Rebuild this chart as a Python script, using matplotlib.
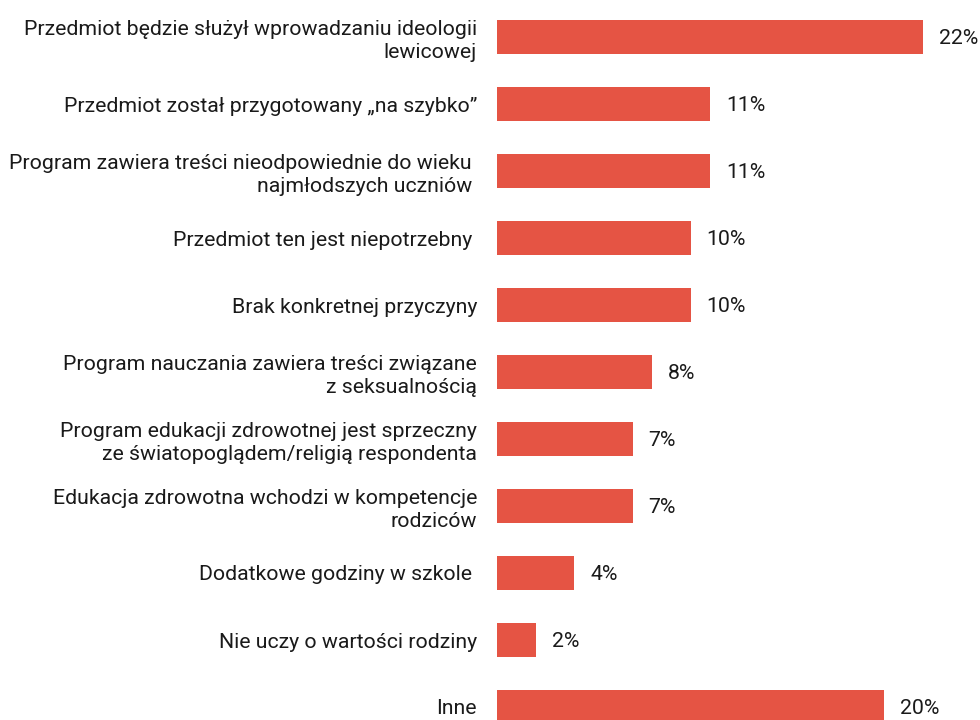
import matplotlib
matplotlib.use("Agg")
import matplotlib.pyplot as plt

categories = [
    "Przedmiot będzie służył wprowadzaniu ideologii\nlewicowej",
    "Przedmiot został przygotowany „na szybko”",
    "Program zawiera treści nieodpowiednie do wieku \nnajmłodszych uczniów ",
    "Przedmiot ten jest niepotrzebny ",
    "Brak konkretnej przyczyny",
    "Program nauczania zawiera treści związane\nz seksualnością",
    "Program edukacji zdrowotnej jest sprzeczny\nze światopoglądem/religią respondenta",
    "Edukacja zdrowotna wchodzi w kompetencje\nrodziców",
    "Dodatkowe godziny w szkole ",
    "Nie uczy o wartości rodziny",
    "Inne",
]
values = [22, 11, 11, 10, 10, 8, 7, 7, 4, 2, 20]
value_labels = ["22%", "11%", "11%", "10%", "10%", "8%", "7%", "7%", "4%", "2%", "20%"]

plt.rcParams['font.family'] = ['Roboto', 'DejaVu Sans']

W, H = 980, 720
fig = plt.figure(figsize=(W / 100, H / 100), dpi=100)
left_px, right_px = 497, 981
top_px, bottom_px = 3.5, 740.5
ax = fig.add_axes([left_px / W, 1 - bottom_px / H, (right_px - left_px) / W, (bottom_px - top_px) / H])

bar_color = "#E55444"
text_color = "#1a1a1a"
y = list(range(len(values)))
ax.barh(y, values, height=0.52, color=bar_color)
ax.set_xlim(0, 25)
ax.set_ylim(len(values) - 0.5, -0.5)

ax.set_yticks(y)
ax.set_yticklabels(categories, fontsize=15.3, color=text_color, linespacing=1.27)
ax.tick_params(axis='y', length=0, pad=14.4)
ax.set_xticks([])
for s in ax.spines.values():
    s.set_visible(False)

for yi, v, lab in zip(y, values, value_labels):
    ax.annotate(lab, xy=(v, yi), xytext=(11.5, -1), textcoords='offset points',
                ha='left', va='center', fontsize=15.3, color=text_color)

fig.savefig("out.png", dpi=100)
